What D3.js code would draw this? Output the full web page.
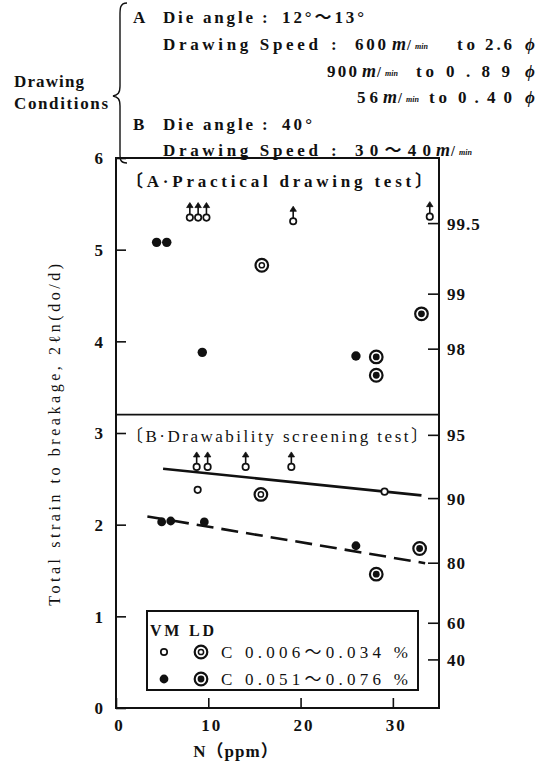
<!DOCTYPE html>
<html>
<head>
<meta charset="utf-8">
<script src="https://cdn.jsdelivr.net/npm/d3@7"></script>
<style>
  body { margin: 0; background: #fff; }
  svg text { fill: #111; font-weight: bold; }
</style>
</head>
<body>
<div id="chart"></div>
<script>
// values: [N (ppm), total strain, arrow up?]
const vmLowA  = [[8.0, 5.35, 1], [8.9, 5.35, 1], [9.8, 5.35, 1], [19.2, 5.31, 1], [34.0, 5.36, 1]];
const vmLowB  = [[8.74, 2.63, 1], [9.93, 2.63, 1], [14.05, 2.63, 1], [19.0, 2.63, 1], [8.85, 2.38, 0], [29.1, 2.36, 0]];
const vmHighA = [[4.4, 5.08], [5.5, 5.08], [9.35, 3.88], [26.0, 3.84]];
const vmHighB = [[4.95, 2.03], [5.93, 2.04], [9.57, 2.03], [26.0, 1.77]];
const ldLowA  = [[15.8, 4.83]];
const ldLowB  = [[15.7, 2.33]];
const ldHighA = [[28.2, 3.83], [28.2, 3.63], [33.1, 4.30]];
const ldHighB = [[28.2, 1.46], [32.9, 1.74]];
const trendLow  = [[5.1, 2.61], [33.1, 2.32]];
const trendHigh = [[3.4, 2.09], [33.5, 1.58]];

const leftTicks = [0, 1, 2, 3, 4, 5, 6];
const bottomTicks = [0, 10, 20, 30];
// right hand (probability %) scale, given at its place on the strain scale
const rightTickValues = [5.29, 4.52, 3.92, 2.98, 2.29, 1.585, 0.93, 0.53];
const rightTickLabels = ["99.5", "99", "98", "95", "90", "80", "60", "40"];
const panelSplit = 3.2;

const FONT = '"Liberation Serif", "DejaVu Serif", "Noto Sans CJK JP", serif';
const width = 557, height = 769;
const svg = d3.select("#chart").append("svg")
    .attr("width", width)
    .attr("height", height)
    .attr("font-family", FONT)
    .style("font-family", FONT);

const x = d3.scaleLinear().domain([0, 35]).range([116, 439]);
const y = d3.scaleLinear().domain([0, 6]).range([708, 158]);

// ---- header block
const hdr = svg.append("g").style("font-size", "17px");
const put = (g, px, py, str, opts = {}) => {
    const t = g.append("text").attr("x", px).attr("y", py)
        .style("font-family", FONT).text(str);
    if (opts.len) t.attr("textLength", opts.len).attr("lengthAdjust", "spacing");
    if (opts.size) t.style("font-size", opts.size + "px");
    if (opts.italic) t.style("font-style", "italic");
    return t;
};
const mmin = (g, px, py) => {
    put(g, px, py, "m", {italic: true, size: 18});
    put(g, px + 15, py, "/", {size: 14});
    put(g, px + 23, py - 1, "min", {size: 8, italic: true});
};
put(hdr, 14, 87, "Drawing", {len: 70});
put(hdr, 14, 109, "Conditions", {len: 94});
hdr.append("path")
    .attr("d", "M127,3 C119,3 120,10 120,20 L120,86 C120,93 118,95 113,96 C118,97 120,99 120,106 L120,150 C120,158 119,163 127,163")
    .attr("fill", "none").attr("stroke", "#111").attr("stroke-width", 1.4);

put(hdr, 133, 23, "A");
put(hdr, 163, 23, "Die angle", {len: 90});
put(hdr, 262, 23, ":");
put(hdr, 282, 23, "12°～13°", {len: 82});

put(hdr, 163, 50, "Drawing Speed", {len: 155});
put(hdr, 331, 50, ":");
put(hdr, 355, 50, "600", {len: 31});
mmin(hdr, 392, 50);
put(hdr, 457, 50, "to", {len: 18});
put(hdr, 485, 50, "2.6", {len: 27});
put(hdr, 525, 50, "ϕ", {italic: true});

put(hdr, 327, 77, "900", {len: 30});
mmin(hdr, 362, 77);
put(hdr, 416, 77, "to", {len: 18});
put(hdr, 446, 77, "0.89", {len: 64});
put(hdr, 525, 77, "ϕ", {italic: true});

put(hdr, 357, 103, "56", {len: 21});
mmin(hdr, 383, 103);
put(hdr, 429, 103, "to", {len: 18});
put(hdr, 458, 103, "0.40", {len: 54});
put(hdr, 525, 103, "ϕ", {italic: true});

put(hdr, 133, 130, "B");
put(hdr, 163, 130, "Die angle", {len: 90});
put(hdr, 262, 130, ":");
put(hdr, 282, 130, "40°", {len: 30});

put(hdr, 163, 156, "Drawing Speed", {len: 155});
put(hdr, 331, 156, ":");
put(hdr, 355, 156, "30～40", {len: 76});
mmin(hdr, 436, 156);

// ---- frame
const plot = svg.append("g");
plot.append("rect")
    .attr("x", x(0)).attr("y", y(6))
    .attr("width", x(35) - x(0)).attr("height", y(0) - y(6))
    .attr("fill", "none").attr("stroke", "#111").attr("stroke-width", 2);
plot.append("line")
    .attr("x1", x(0)).attr("x2", x(35))
    .attr("y1", y(panelSplit)).attr("y2", y(panelSplit))
    .attr("stroke", "#111").attr("stroke-width", 1.6);

// left axis, ticks inward
const leftAxis = d3.axisRight(y).tickValues(leftTicks).tickSize(10).tickFormat(d3.format("d"));
const la = plot.append("g").attr("transform", `translate(${x(0)},0)`).call(leftAxis)
    .attr("font-family", FONT);
la.select(".domain").remove();
la.selectAll(".tick line").attr("stroke", "#111").attr("stroke-width", 1.6);
la.selectAll(".tick text").attr("x", -13).attr("text-anchor", "end")
    .style("font-size", "17px").attr("dy", "0.35em");

// bottom axis, ticks inward
const bottomAxis = d3.axisTop(x).tickValues(bottomTicks).tickSize(10).tickFormat(d3.format("d"));
const ba = plot.append("g").attr("transform", `translate(0,${y(0)})`).call(bottomAxis)
    .attr("font-family", FONT);
ba.select(".domain").remove();
ba.selectAll(".tick line").attr("stroke", "#111").attr("stroke-width", 1.6);
ba.selectAll(".tick text").attr("y", 23).attr("dy", 0).attr("dx", 3)
    .style("font-size", "17px").style("letter-spacing", "2px");

// right (probability) axis, ticks inward
const rightAxis = d3.axisLeft(y).tickValues(rightTickValues).tickSize(11)
    .tickFormat((d, i) => rightTickLabels[i]);
const ra = plot.append("g").attr("transform", `translate(${x(35)},0)`).call(rightAxis)
    .attr("font-family", FONT);
ra.select(".domain").remove();
ra.selectAll(".tick line").attr("stroke", "#111").attr("stroke-width", 1.6);
ra.selectAll(".tick text").attr("x", 8).attr("text-anchor", "start")
    .style("font-size", "17px").style("letter-spacing", "1px").attr("dy", "0.35em");

// axis titles
svg.append("text")
    .attr("transform", `translate(60,${y(2.98)}) rotate(-90)`)
    .attr("text-anchor", "middle")
    .attr("textLength", 342).attr("lengthAdjust", "spacing")
    .style("font-size", "16px").style("font-weight", "normal")
    .text("Total strain to breakage, 2ℓn(do/d)");
svg.append("text")
    .attr("x", 236).attr("y", 757).attr("text-anchor", "middle")
    .style("font-size", "17px").style("letter-spacing", "1px")
    .text("N（ppm）");

// panel titles
put(plot, 126, 187, "〔A·Practical drawing test〕", {len: 306, size: 17});
put(plot, 126, 442, "〔B·Drawability screening test〕", {len: 302, size: 17}).style("font-weight", "normal");

// ---- trend lines
const line = d3.line().x(d => x(d[0])).y(d => y(d[1]));
plot.append("path").datum(trendLow).attr("d", line)
    .attr("stroke", "#111").attr("stroke-width", 2.6).attr("fill", "none");
plot.append("path").datum(trendHigh).attr("d", line)
    .attr("stroke", "#111").attr("stroke-width", 2.6).attr("fill", "none")
    .attr("stroke-dasharray", "17,8");

// ---- markers
const marks = plot.append("g");
const drawVmOpen = (data) => {
    const g = marks.selectAll(null).data(data).enter().append("g")
        .attr("transform", d => `translate(${x(d[0])},${y(d[1])})`);
    g.filter(d => d[2]).append("line")
        .attr("y1", -3).attr("y2", -12).attr("stroke", "#111").attr("stroke-width", 1.6);
    g.filter(d => d[2]).append("path")
        .attr("d", "M-3.2,-10 L0,-15 L3.2,-10 Z").attr("fill", "#111")
        .attr("stroke", "#111").attr("stroke-width", 0.8);
    g.append("circle").attr("r", 3.2)
        .attr("fill", "#fff").attr("stroke", "#111").attr("stroke-width", 1.7);
};
const drawVmFilled = (data, r) => {
    marks.selectAll(null).data(data).enter().append("circle")
        .attr("cx", d => x(d[0])).attr("cy", d => y(d[1]))
        .attr("r", r).attr("fill", "#111");
};
const drawLd = (data, filled) => {
    const g = marks.selectAll(null).data(data).enter().append("g")
        .attr("transform", d => `translate(${x(d[0])},${y(d[1])})`);
    g.append("circle").attr("r", 6.3)
        .attr("fill", "#fff").attr("stroke", "#111").attr("stroke-width", 2.2);
    if (filled) {
        g.append("circle").attr("r", 3.4).attr("fill", "#111");
    } else {
        g.append("circle").attr("r", 2.6)
            .attr("fill", "#fff").attr("stroke", "#111").attr("stroke-width", 1.5);
    }
};
drawVmOpen(vmLowA);
drawVmOpen(vmLowB);
drawVmFilled(vmHighA, 4.7);
drawVmFilled(vmHighB, 4.4);
drawLd(ldLowA, false);
drawLd(ldLowB, false);
drawLd(ldHighA, true);
drawLd(ldHighB, true);

// ---- legend
const lg = plot.append("g");
lg.append("rect").attr("x", 147).attr("y", 611).attr("width", 271).attr("height", 79)
    .attr("fill", "#fff").attr("stroke", "#111").attr("stroke-width", 2);
put(lg, 150, 636, "VM LD", {len: 64});
lg.append("circle").attr("cx", 164).attr("cy", 652).attr("r", 3.2)
    .attr("fill", "#fff").attr("stroke", "#111").attr("stroke-width", 1.7);
lg.append("circle").attr("cx", 201).attr("cy", 652).attr("r", 6.3)
    .attr("fill", "#fff").attr("stroke", "#111").attr("stroke-width", 2.2);
lg.append("circle").attr("cx", 201).attr("cy", 652).attr("r", 2.6)
    .attr("fill", "#fff").attr("stroke", "#111").attr("stroke-width", 1.5);
put(lg, 221, 658, "C 0.006～0.034 %", {len: 187, size: 17}).style("font-weight", "normal");
lg.append("circle").attr("cx", 164).attr("cy", 679).attr("r", 4.4).attr("fill", "#111");
lg.append("circle").attr("cx", 201).attr("cy", 679).attr("r", 6.3)
    .attr("fill", "#fff").attr("stroke", "#111").attr("stroke-width", 2.2);
lg.append("circle").attr("cx", 201).attr("cy", 679).attr("r", 3.4).attr("fill", "#111");
put(lg, 221, 685, "C 0.051～0.076 %", {len: 187, size: 17}).style("font-weight", "normal");
</script>
</body>
</html>
